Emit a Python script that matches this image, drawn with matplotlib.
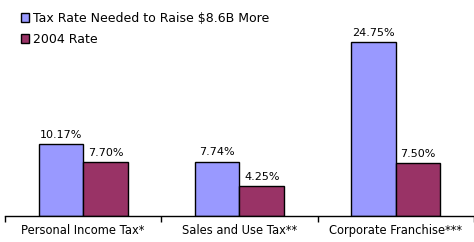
import matplotlib
matplotlib.use("Agg")
import matplotlib.pyplot as plt
import numpy as np

categories = ["Personal Income Tax*", "Sales and Use Tax**", "Corporate Franchise***"]
needed_rate = [10.17, 7.74, 24.75]
rate_2004 = [7.70, 4.25, 7.50]
series_names = ["Tax Rate Needed to Raise $8.6B More", "2004 Rate"]

plt.rcParams['font.family'] = ['Verdana', 'DejaVu Sans']

fig = plt.figure(figsize=(4.74, 2.42), dpi=100)
ax = fig.add_axes([5 / 474, 26 / 242, 469 / 474, 216 / 242])

x = np.arange(len(categories))
w = 0.285
b1 = ax.bar(x - w / 2, needed_rate, w, color='#9999FF', edgecolor='black', linewidth=1, label=series_names[0])
b2 = ax.bar(x + w / 2, rate_2004, w, color='#993366', edgecolor='black', linewidth=1, label=series_names[1])

# value labels on top of every bar
for bars, vals in ((b1, needed_rate), (b2, rate_2004)):
    for bar, v in zip(bars, vals):
        ax.annotate(f"{v:.2f}%", (bar.get_x() + bar.get_width() / 2, v),
                    xytext=(0, 3), textcoords='offset points',
                    ha='center', va='bottom', fontsize=8)

ax.set_xlim(-0.5, 2.5)
ax.set_ylim(0, 30.7)
ax.set_yticks([])
for side in ('left', 'right', 'top'):
    ax.spines[side].set_visible(False)
ax.spines['bottom'].set_linewidth(1)

# ticks between categories, labels centred under the groups
ax.set_xticks([-0.5, 0.5, 1.5, 2.5])
ax.set_xticklabels([])
ax.tick_params(axis='x', which='major', length=4, width=1, direction='out')
ax.set_xticks(x, minor=True)
ax.set_xticklabels(categories, minor=True, fontsize=8.3)
ax.tick_params(axis='x', which='minor', length=0, pad=6)

leg = ax.legend(loc='upper left', bbox_to_anchor=(0.015, 0.985), frameon=False,
                fontsize=9, handlelength=0.65, handleheight=0.65,
                handletextpad=0.3, labelspacing=0.62, borderaxespad=0.3)

fig.savefig("out.png", dpi=100)
